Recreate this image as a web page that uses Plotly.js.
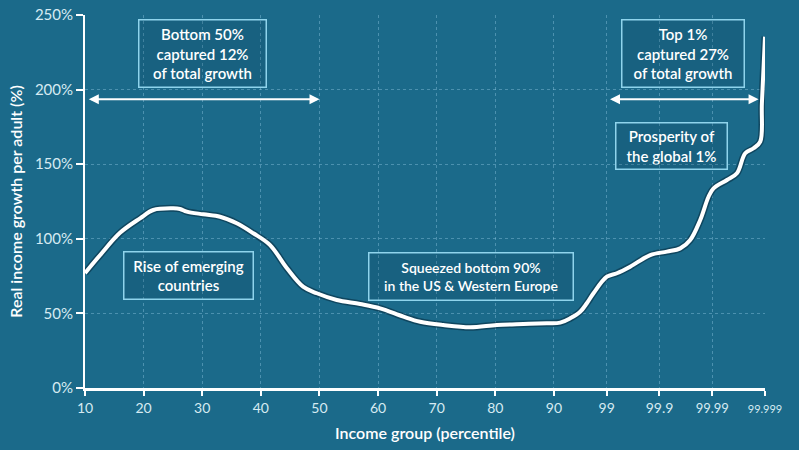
<!DOCTYPE html>
<html>
<head>
<meta charset="utf-8">
<script src="https://cdn.plot.ly/plotly-3.0.1.min.js"></script>
<style>
  html, body { margin: 0; padding: 0; background: #1b6a8a; }
  #chart { width: 799px; height: 450px; }
</style>
</head>
<body>
<div id="chart"></div>
<script>
// Position along the income-group axis (0 = 10th percentile, 8 = 90th, 8.9 = 99th ... 11.6 = 99.999th)
const xPos = [0, 0.256, 0.597, 0.939, 1.166, 1.507, 1.621, 1.735, 2.019, 2.304, 2.589, 2.872, 3.157,
  3.442, 3.72, 3.954, 4.295, 4.693, 5.034, 5.432, 5.717, 6.109, 6.57, 7.026, 7.48, 7.879, 8.106,
  8.276, 8.447, 8.561, 8.674, 8.903, 9.073, 9.3, 9.642, 9.927, 10.154, 10.324, 10.495, 10.637,
  10.722, 10.951, 11.121, 11.263, 11.404, 11.519, 11.547, 11.6];
// Real income growth per adult (%)
const growth = [77, 89, 104, 113.7, 119.3, 120.4, 120, 118.2, 116.4, 114.8, 110.4, 103.7, 95.8,
  80.4, 67.9, 63.5, 59, 56.3, 53.4, 47.8, 44.4, 42.2, 40.7, 42.2, 42.9, 43.4, 43.8,
  46.7, 51.1, 56.8, 63.5, 74.6, 76.9, 81.3, 89.1, 91.4, 93.6, 99.2, 112.6, 128.2,
  133.8, 139.4, 143.9, 157.3, 160.7, 165.1, 190.8, 235.5];

const tickPos = [0, 1, 2, 3, 4, 5, 6, 7, 8, 8.9, 9.8, 10.7, 11.6];
const tickLabels = ['10', '20', '30', '40', '50', '60', '70', '80', '90', '99', '99.9', '99.99', '99.999'];
const yTicks = [0, 50, 100, 150, 200, 250];
const yTickLabels = ['0%', '50%', '100%', '150%', '200%', '250%'];

const boxLabels = [
  'Bottom 50%<br>captured 12%<br>of total growth',
  'Top 1%<br>captured 27%<br>of total growth',
  'Prosperity of<br>the global 1%',
  'Rise of emerging<br>countries',
  'Squeezed bottom 90%<br>in the US &amp; Western Europe'
];

const BG = '#1b6a8a';
const FONT = 'Lato, "Open Sans", sans-serif';

const traces = [
  {
    x: xPos, y: growth, type: 'scatter', mode: 'lines',
    line: { color: 'rgba(5,40,60,0.55)', width: 7, shape: 'spline', smoothing: 1 },
    hoverinfo: 'skip', cliponaxis: false
  },
  {
    x: xPos, y: growth, type: 'scatter', mode: 'lines',
    line: { color: '#ffffff', width: 4, shape: 'spline', smoothing: 1 },
    cliponaxis: false
  }
];

function box(text, x, y, w, h, size) {
  return {
    x: x, y: y, xref: 'x', yref: 'y',
    text: text, showarrow: false,
    xanchor: 'center', yanchor: 'middle',
    width: w, height: h, align: 'center', valign: 'middle',
    font: { family: FONT, size: size, color: '#ffffff', weight: 600 },
    bordercolor: '#8fd4ec', borderwidth: 1.5, borderpad: 4,
    bgcolor: 'rgba(10,60,85,0.18)'
  };
}
function doubleArrow(x0, x1, y) {
  return {
    x: x1, y: y, ax: x0, ay: y,
    xref: 'x', yref: 'y', axref: 'x', ayref: 'y',
    text: '', showarrow: true, arrowside: 'end+start',
    arrowhead: 2, arrowsize: 1, arrowwidth: 2, arrowcolor: '#ffffff', standoff: 0, startstandoff: 0
  };
}

const annotations = [
  box(boxLabels[0], 2.01, 224, 118, 58, 15),
  box(boxLabels[1], 10.2, 224, 113, 58, 15),
  box(boxLabels[2], 10.01, 162.3, 102, 37, 15),
  box(boxLabels[3], 1.77, 75.4, 120, 38, 15),
  box(boxLabels[4], 6.59, 74.9, 195, 38, 14),
  doubleArrow(0.04, 4.0, 193.5),
  doubleArrow(8.93, 11.49, 193.5)
];

const layout = {
  width: 799, height: 450,
  paper_bgcolor: BG, plot_bgcolor: BG,
  margin: { l: 85, r: 34, t: 15, b: 62 },
  showlegend: false,
  font: { family: FONT, color: '#ffffff' },
  xaxis: {
    range: [0, 11.6], tickmode: 'array', tickvals: tickPos,
    ticktext: tickLabels.map((t, i) => i === tickLabels.length - 1 ? '<span style="font-size:11px">' + t + '</span>'
      : (i === tickLabels.length - 2 ? '<span style="font-size:13px">' + t + '</span>' : t)),
    showline: true, linecolor: '#ffffff', linewidth: 3,
    ticks: 'outside', ticklen: 5, tickwidth: 2, tickcolor: '#ffffff',
    showgrid: true, gridcolor: 'rgba(150,205,230,0.4)', griddash: 'dot', gridwidth: 1,
    zeroline: false,
    tickfont: { family: FONT, size: 14, color: '#d6eaf2' },
    title: { text: 'Income group (percentile)', font: { family: FONT, size: 16, color: '#ffffff', weight: 600 }, standoff: 14 }
  },
  yaxis: {
    range: [0, 250], tickmode: 'array', tickvals: yTicks, ticktext: yTickLabels,
    showline: true, linecolor: '#ffffff', linewidth: 2,
    ticks: 'outside', ticklen: 7, tickwidth: 2, tickcolor: '#ffffff',
    showgrid: true, gridcolor: 'rgba(150,205,230,0.4)', griddash: 'dot', gridwidth: 1,
    zeroline: false,
    tickfont: { family: FONT, size: 15, color: '#d6eaf2' },
    title: { text: 'Real income growth per adult (%)', font: { family: FONT, size: 16, color: '#ffffff', weight: 600 }, standoff: 8 }
  },
  annotations: annotations
};

Plotly.newPlot('chart', traces, layout, { displayModeBar: false, staticPlot: true });
</script>
</body>
</html>
